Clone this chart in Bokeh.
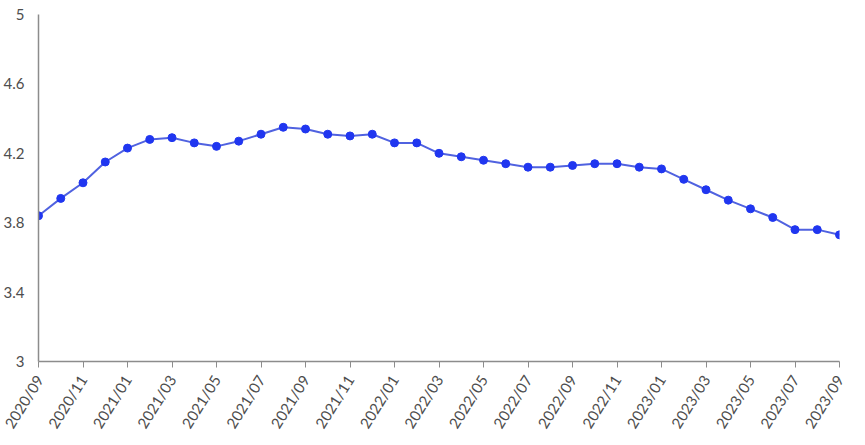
import math
from bokeh.plotting import figure
from bokeh.models import ColumnDataSource, FixedTicker, Range1d
from bokeh.embed import file_html
from bokeh.resources import INLINE

months = ["2020/09", "2020/10", "2020/11", "2020/12", "2021/01", "2021/02", "2021/03",
          "2021/04", "2021/05", "2021/06", "2021/07", "2021/08", "2021/09", "2021/10",
          "2021/11", "2021/12", "2022/01", "2022/02", "2022/03", "2022/04", "2022/05",
          "2022/06", "2022/07", "2022/08", "2022/09", "2022/10", "2022/11", "2022/12",
          "2023/01", "2023/02", "2023/03", "2023/04", "2023/05", "2023/06", "2023/07",
          "2023/08", "2023/09"]
values = [3.84, 3.94, 4.03, 4.15, 4.23, 4.28, 4.29, 4.26, 4.24, 4.27, 4.31, 4.35,
          4.34, 4.31, 4.30, 4.31, 4.26, 4.26, 4.20, 4.18, 4.16, 4.14, 4.12, 4.12,
          4.13, 4.14, 4.14, 4.12, 4.11, 4.05, 3.99, 3.93, 3.88, 3.83, 3.76, 3.76, 3.73]
y_ticks = [3, 3.4, 3.8, 4.2, 4.6, 5]

idx = list(range(len(months)))
src = ColumnDataSource(data=dict(x=idx, y=values))

p = figure(width=849, height=439, output_backend="svg", toolbar_location=None,
           x_range=Range1d(0, len(months) - 1), y_range=Range1d(3, 5))
p.min_border_left = 31
p.min_border_right = 10
p.min_border_top = 14
p.min_border_bottom = 60
p.outline_line_color = None
p.xgrid.visible = False
p.ygrid.visible = False

p.line("x", "y", source=src, line_color="#5062E0", line_width=2)
p.scatter("x", "y", source=src, size=8, fill_color="#2036F0", line_color="#2036F0")

text_color = "#4D4D4D"
axis_color = "#8C8C8C"

p.xaxis.ticker = FixedTicker(ticks=idx[::2])
p.xaxis.major_label_overrides = {i: months[i] for i in idx[::2]}
p.xaxis.major_label_orientation = math.radians(58)
p.xaxis.major_label_standoff = 9
p.xaxis.minor_tick_line_color = None
p.xaxis.major_tick_out = 6
p.xaxis.major_tick_in = 0
p.xaxis.major_tick_line_color = axis_color
p.xaxis.axis_line_color = axis_color
p.xaxis.axis_line_width = 1.5
p.xaxis.major_label_text_font = "Lato"
p.xaxis.major_label_text_font_size = "15px"
p.xaxis.major_label_text_color = text_color

p.yaxis.ticker = FixedTicker(ticks=y_ticks)
p.yaxis.major_label_overrides = {3: "3", 5: "5"}
p.yaxis.minor_tick_line_color = None
p.yaxis.major_tick_line_color = None
p.yaxis.axis_line_color = axis_color
p.yaxis.axis_line_width = 1.5
p.yaxis.major_label_standoff = 8
p.yaxis.major_label_text_font = "Lato"
p.yaxis.major_label_text_font_size = "15px"
p.yaxis.major_label_text_color = text_color

open("out.html", "w").write(file_html(p, INLINE))
